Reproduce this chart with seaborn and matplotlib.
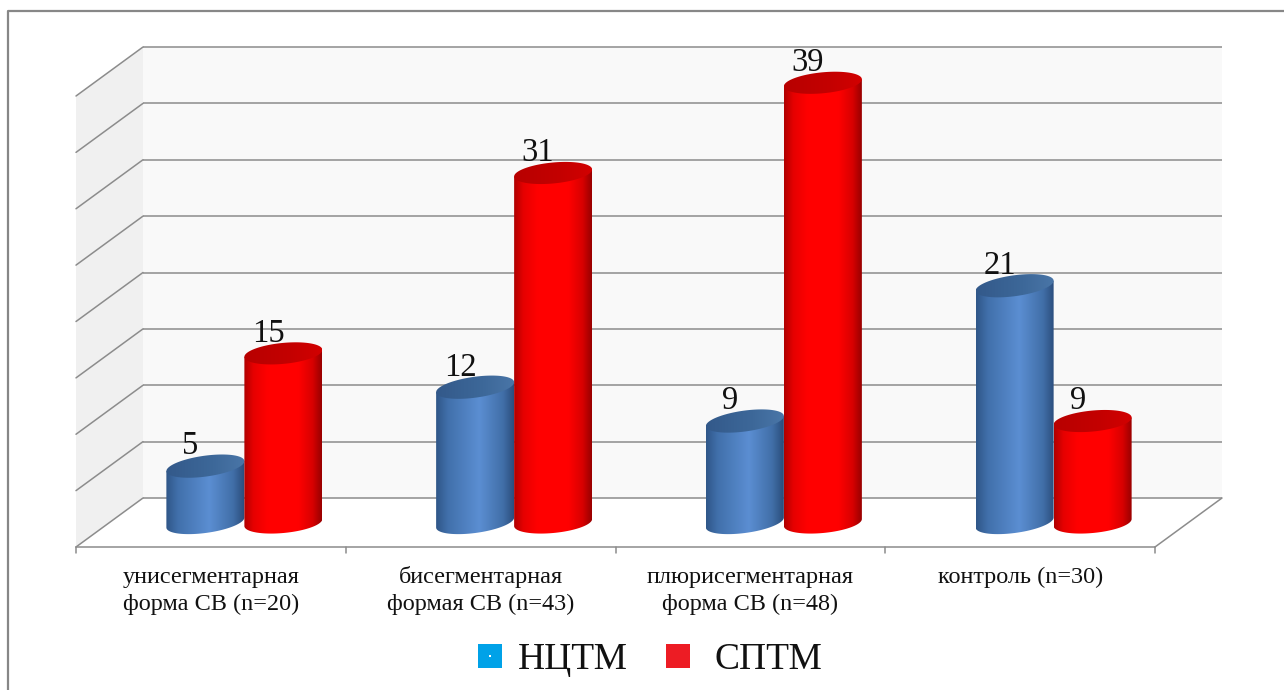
import numpy as np
import matplotlib
matplotlib.use("Agg")
import matplotlib.pyplot as plt
from matplotlib.patches import Polygon, Rectangle
from matplotlib.lines import Line2D
from matplotlib.colors import LinearSegmentedColormap
import seaborn as sns

# ---- data -------------------------------------------------------------
categories = [
    ["унисегментарная", "форма СВ (n=20)"],
    ["бисегментарная", "формая СВ (n=43)"],
    ["плюрисегментарная", "форма СВ (n=48)"],
    ["контроль (n=30)"],
]
series_names = ["НЦТМ", "СПТМ"]
nctm = [5, 12, 9, 21]
sptm = [15, 31, 39, 9]
grid_values = [0, 5, 10, 15, 20, 25, 30, 35, 40]

# ---- style ------------------------------------------------------------
sns.set_theme(style="white")
plt.rcParams["font.family"] = ["Liberation Serif", "DejaVu Serif"]
legend_colors = sns.color_palette(["#00a2e8", "#ed1c24"])

FIG_W, FIG_H = 1284, 690
fig = plt.figure(figsize=(FIG_W / 100, FIG_H / 100), dpi=100)
ax = fig.add_axes([0, 0, 1, 1])
ax.set_axis_off()

# pseudo-3D projection: x in category units, y in value units,
# depth moves a point by (DX, DY)
UX, UY = 269.75, 11.275          # pixels per category / per value unit
OX, OY = 76, 547                 # front-left floor corner in pixels
DX, DY = 67 / UX, 49 / UY
n_cat = len(categories)
top = grid_values[-1]
GRID_C = "#8c8c8c"
LW = 1.1

# walls and floor
ax.add_patch(Polygon([(DX, DY), (n_cat + DX, DY), (n_cat + DX, DY + top), (DX, DY + top)],
                     closed=True, facecolor="#f9f9f9", edgecolor="none", zorder=0))
ax.add_patch(Polygon([(0, 0), (DX, DY), (DX, DY + top), (0, top)],
                     closed=True, facecolor="#f0f0f0", edgecolor="none", zorder=0))
ax.add_patch(Polygon([(0, 0), (n_cat, 0), (n_cat + DX, DY), (DX, DY)],
                     closed=True, facecolor="white", edgecolor="none", zorder=0))
for g in grid_values:
    ax.plot([DX, n_cat + DX], [DY + g, DY + g], color=GRID_C, lw=LW, zorder=1,
            solid_capstyle="butt")
    ax.plot([0, DX], [g, DY + g], color=GRID_C, lw=LW, zorder=1)
ax.plot([0, n_cat], [0, 0], color=GRID_C, lw=LW, zorder=1)
ax.plot([n_cat, n_cat + DX], [0, DY], color=GRID_C, lw=LW, zorder=1)
for i in range(n_cat + 1):
    ax.plot([i, i], [0, -0.55], color=GRID_C, lw=LW, zorder=1)

# ---- cylinders --------------------------------------------------------
blue_body = LinearSegmentedColormap.from_list(
    "blue_body", [(0, "#2f5688"), (0.15, "#4170ab"), (0.55, "#5b8ed2"),
                  (0.85, "#416fa8"), (1, "#2a4c7a")])
blue_top = LinearSegmentedColormap.from_list(
    "blue_top", [(0, "#33598a"), (0.6, "#3d6899"), (1, "#4a76a8")])
red_body = LinearSegmentedColormap.from_list(
    "red_body", [(0, "#b00000"), (0.12, "#e60000"), (0.3, "#ff0000"),
                 (0.7, "#ff0000"), (0.88, "#d80000"), (1, "#980000")])
red_top = LinearSegmentedColormap.from_list(
    "red_top", [(0, "#b80000"), (0.6, "#c40000"), (1, "#d20000")])

BAR_W = 78 / UX
B = 10.5 / UY                    # semi-minor axis of the end ellipses
grad = np.linspace(0, 1, 256)[None, :]


def shaded(poly, cmap, extent, z):
    clip = Polygon(poly, closed=True, transform=ax.transData,
                   facecolor="none", edgecolor="none")
    ax.add_patch(clip)
    im = ax.imshow(grad, cmap=cmap, extent=extent, aspect="auto",
                   interpolation="bicubic", zorder=z)
    im.set_clip_path(clip)


def cylinder(xc, value, body_cmap, top_cmap, tilt_px, z):
    half = BAR_W / 2
    shear = (tilt_px / UY) / (78 / UX)   # slope of the ellipse axis
    lift = shear * half
    y0 = DY / 2
    y1 = y0 + value
    t = np.linspace(0, np.pi, 80)
    lx = xc + half * np.cos(t)
    lower = np.column_stack([lx, y0 - B * np.sin(t) + shear * (lx - xc)])
    body = np.vstack([[xc - half, y1 - lift], [xc + half, y1 + lift], lower])
    shaded(body, body_cmap,
           [xc - half, xc + half, y0 - B - lift, y1 + B + lift], z)
    t2 = np.linspace(0, 2 * np.pi, 120)
    cx = xc + half * np.cos(t2)
    cap = np.column_stack([cx, y1 + B * np.sin(t2) + shear * (cx - xc)])
    shaded(cap, top_cmap,
           [xc - half, xc + half, y1 - B - lift, y1 + B + lift], z + 0.1)
    ax.text(xc - 15 / UX, y1 + B + 0.1, f"{value}", ha="center", va="baseline",
            fontsize=23.5, color="#111111", zorder=20)


for i in range(n_cat):
    center = i + 0.5 + DX / 2
    cylinder(center - BAR_W / 2, nctm[i], blue_body, blue_top, 10, 3 + i)
    cylinder(center + BAR_W / 2, sptm[i], red_body, red_top, 7, 3.5 + i)

# ---- category labels --------------------------------------------------
LINE1 = (OY - 583) / UY
LINE2 = (OY - 610) / UY
for i, lines in enumerate(categories):
    for line, y in zip(lines, (LINE1, LINE2)):
        ax.text(i + 0.5, y, line, ha="center", va="baseline",
                fontsize=17.5, color="#111111")

# ---- frame ------------------------------------------------------------
ax.add_line(Line2D([8 / FIG_W, 8 / FIG_W, 1], [0, 1 - 11 / FIG_H, 1 - 11 / FIG_H],
                   transform=ax.transAxes, color="#878787", lw=1.6, zorder=30))

# ---- legend -----------------------------------------------------------
legend_items = [(478, 518), (666, 714)]
for (sx, tx), name, col in zip(legend_items, series_names, legend_colors):
    ax.add_patch(Rectangle((sx / FIG_W, 1 - 668 / FIG_H), 24 / FIG_W, 24 / FIG_H,
                           transform=ax.transAxes, facecolor=col,
                           edgecolor="none", zorder=30))
    ax.text(tx / FIG_W, 1 - 669 / FIG_H, name, transform=ax.transAxes,
            ha="left", va="baseline", fontsize=27, color="#111111", zorder=30)
ax.add_patch(Rectangle((489 / FIG_W, 1 - 657 / FIG_H), 2 / FIG_W, 2 / FIG_H,
                       transform=ax.transAxes, facecolor="white",
                       edgecolor="none", zorder=31))

ax.set_xlim(-OX / UX, (FIG_W - OX) / UX)
ax.set_ylim(-(FIG_H - OY) / UY, OY / UY)

fig.savefig("out.png", dpi=100, facecolor="white")
